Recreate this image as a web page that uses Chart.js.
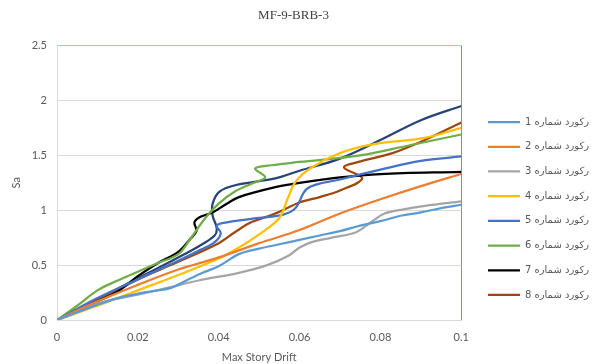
<!DOCTYPE html>
<html>
<head>
<meta charset="utf-8">
<script src="https://cdn.jsdelivr.net/npm/chart.js@4"></script>
<style>
  body { margin: 0; background: #fff; }
  #wrap { width: 592px; height: 364px; }
</style>
</head>
<body>
<div id="wrap"><canvas id="ida-chart" width="592" height="364"></canvas></div>
<script>
// record names (legend)
const recordNames = ['رکورد شماره 1', 'رکورد شماره 2', 'رکورد شماره 3', 'رکورد شماره 4',
  'رکورد شماره 5', 'رکورد شماره 6', 'رکورد شماره 7', 'رکورد شماره 8', ''];
const lineColors = ['#5B9BD5', '#ED7D31', '#A5A5A5', '#FFC000', '#4472C4', '#70AD47', '#000000', '#9E480E', '#264478'];

const xTicks = [0, 0.02, 0.04, 0.06, 0.08, 0.1];
const yTicks = [0, 0.5, 1, 1.5, 2, 2.5];

// drift / Sa pairs
const drift1 = [0, .005, .01, .015, .02, .025, .028, .032, .036, .04, .045, .05, .055, .06, .065, .07, .075, .08, .085, .09, .095, .1];
const sa1    = [0, .07, .14, .2, .24, .27, .29, .36, .43, .49, .6, .65, .69, .73, .77, .81, .86, .9, .95, .98, 1.02, 1.05];

const drift2 = [0, .01, .02, .03, .04, .05, .06, .07, .08, .09, .1];
const sa2    = [0, .17, .32, .46, .57, .7, .82, .97, 1.1, 1.22, 1.33];

const drift3 = [0, .01, .02, .027, .035, .045, .052, .057, .06, .063, .068, .074, .078, .081, .086, .091, .1];
const sa3    = [0, .15, .23, .29, .36, .43, .5, .58, .66, .71, .75, .8, .9, .97, 1.01, 1.04, 1.08];

const drift4 = [0, .01, .02, .03, .04, .045, .05, .055, .057, .059, .063, .07, .078, .091, .1];
const sa4    = [0, .13, .27, .41, .56, .66, .78, .93, 1.1, 1.26, 1.39, 1.52, 1.6, 1.66, 1.75];

const drift5 = [0, .01, .02, .03, .035, .039, .0405, .0395, .042, .05, .056, .059, .062, .07, .08, .09, .1];
const sa5    = [0, .2, .37, .54, .63, .71, .79, .86, .89, .93, .96, 1.02, 1.2, 1.28, 1.37, 1.45, 1.49];

const drift6 = [0, .005, .01, .015, .02, .025, .03, .033, .0365, .04, .044, .048, .0515, .049, .053, .06, .075, .087, .1];
const sa6    = [0, .13, .27, .36, .44, .52, .6, .74, .92, 1.06, 1.17, 1.24, 1.3, 1.38, 1.41, 1.44, 1.5, 1.59, 1.69];

const drift7 = [0, .01, .015, .02, .025, .03, .033, .0345, .034, .0355, .0385, .042, .045, .054, .06, .07, .08, .1];
const sa7    = [0, .17, .26, .4, .52, .62, .74, .81, .89, .94, .98, 1.06, 1.12, 1.21, 1.25, 1.3, 1.33, 1.35];

const drift8 = [0, .01, .02, .03, .04, .044, .048, .054, .06, .065, .07, .0755, .071, .0746, .083, .091, .1];
const sa8    = [0, .18, .37, .53, .7, .8, .89, .97, 1.07, 1.12, 1.18, 1.29, 1.39, 1.44, 1.52, 1.64, 1.8];

const drift9 = [0, .01, .02, .03, .035, .039, .0395, .0385, .0385, .0402, .0443, .054, .06, .07, .08, .09, .1];
const sa9    = [0, .19, .38, .57, .67, .77, .84, .95, 1.06, 1.17, 1.23, 1.29, 1.36, 1.47, 1.64, 1.82, 1.95];

const drifts = [drift1, drift2, drift3, drift4, drift5, drift6, drift7, drift8, drift9];
const sas = [sa1, sa2, sa3, sa4, sa5, sa6, sa7, sa8, sa9];

const datasets = drifts.map((xs, i) => ({
  label: recordNames[i],
  data: xs.map((x, j) => ({ x: x, y: sas[i][j] })),
  borderColor: lineColors[i],
  backgroundColor: lineColors[i],
  borderWidth: 2.25,
  pointRadius: 0,
  showLine: true,
  tension: 0.35,
  fill: false
}));

// nudge the legend block to where Excel put it
const legendShift = {
  id: 'legendShift',
  afterLayout(chart) {
    const lg = chart.legend;
    lg.left += 12; lg.right += 12;
    lg.top += 26.5; lg.bottom += 26.5;
  }
};

const tickFont = { family: 'Lato, "DejaVu Sans", sans-serif', size: 11 };

const idaChart = new Chart(document.querySelector('#ida-chart'), {
  type: 'scatter',
  data: { datasets: datasets },
  plugins: [legendShift],
  options: {
    responsive: false,
    animation: false,
    layout: { padding: { left: 0, right: 5, top: 0, bottom: 0 } },
    plugins: {
      title: {
        display: true,
        text: 'MF-9-BRB-3',
        color: '#404040',
        font: { family: '"Liberation Serif", "Times New Roman", serif', size: 13, weight: 'normal' },
        padding: { top: 8, bottom: 22 }
      },
      legend: {
        position: 'right',
        align: 'center',
        labels: {
          usePointStyle: true,
          pointStyle: 'line',
          pointStyleWidth: 32,
          padding: 14.7,
          color: '#595959',
          font: { family: '"DejaVu Sans", Lato, sans-serif', size: 10 },
          filter: (item) => item.datasetIndex < 8
        }
      },
      tooltip: { enabled: false }
    },
    scales: {
      x: {
        type: 'linear',
        min: 0, max: 0.1,
        afterBuildTicks: (s) => { s.ticks = xTicks.map(v => ({ value: v })); },
        afterFit: (s) => { s.height = 44; },
        ticks: { color: '#595959', font: tickFont, padding: 11, callback: (v) => String(v) },
        grid: {
          drawTicks: false,
          color: (c) => c.tick && c.tick.value === 0.1 ? '#5B9BD5' : 'rgba(0,0,0,0)',
          lineWidth: 1
        },
        border: { display: true, color: '#d9d9d9' },
        title: { display: true, text: 'Max Story Drift', color: '#595959', font: tickFont, padding: { top: 0, bottom: 0 } }
      },
      y: {
        type: 'linear',
        min: 0, max: 2.5,
        afterBuildTicks: (s) => { s.ticks = yTicks.map(v => ({ value: v })); },
        afterFit: (s) => { s.width = 57; },
        ticks: { color: '#595959', font: tickFont, padding: 10, callback: (v) => String(v) },
        grid: {
          drawTicks: false,
          color: (c) => c.tick && c.tick.value === 2.5 ? '#9DC3E6' : '#d9d9d9',
          lineWidth: 1
        },
        border: { display: true, color: '#d9d9d9' },
        title: { display: true, text: 'Sa', color: '#595959', font: tickFont, padding: { top: 10, bottom: 0 } }
      }
    }
  }
});
</script>
</body>
</html>
